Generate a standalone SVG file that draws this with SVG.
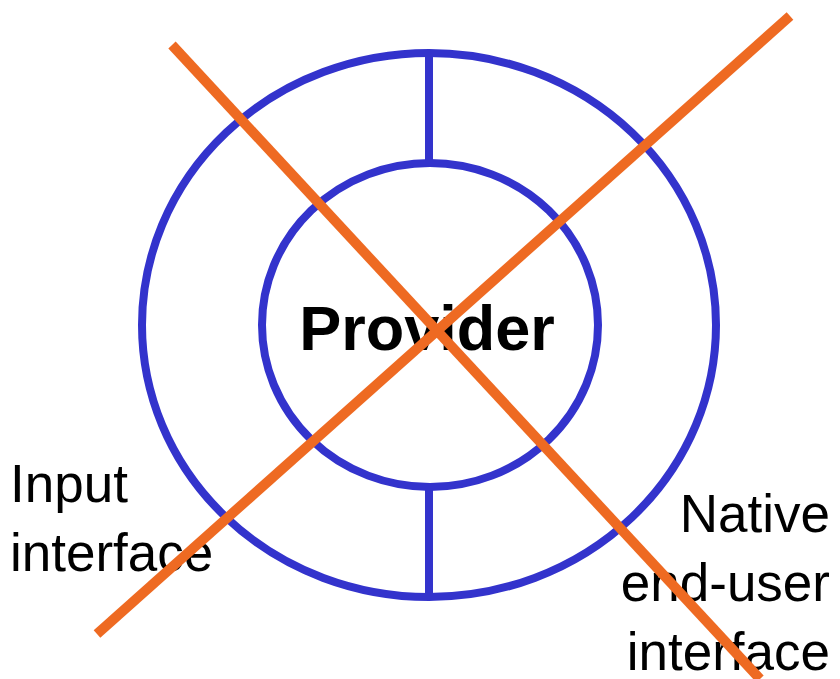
<svg xmlns="http://www.w3.org/2000/svg" width="840" height="679" viewBox="0 0 840 679">
  <style>
    .ring { fill: none; stroke: #3333cc; stroke-width: 8; }
    .cross { fill: none; stroke: #ee6a22; stroke-width: 10; stroke-linecap: butt; }
    .label { font-family: "Liberation Sans", Arial, sans-serif; font-size: 53px; fill: #000; }
    .title { font-family: "Liberation Sans", Arial, sans-serif; font-size: 63px; font-weight: bold; fill: #000; }
  </style>
  <rect width="840" height="679" fill="#fff"/>
  <g id="outer-ring">
    <ellipse class="ring" cx="429" cy="325" rx="287" ry="272"/>
    <line class="ring" x1="429" y1="53" x2="429" y2="163"/>
    <line class="ring" x1="429" y1="487" x2="429" y2="597"/>
  </g>
  <g id="provider">
    <ellipse class="ring" cx="430" cy="325" rx="168" ry="162"/>
    <text class="title" x="427" y="350" text-anchor="middle">Provider</text>
  </g>
  <g id="input-interface">
    <text class="label" x="10" y="502">Input</text>
    <text class="label" x="10" y="571">interface</text>
  </g>
  <g id="native-interface">
    <text class="label" x="830" y="532" text-anchor="end">Native</text>
    <text class="label" x="830" y="601" text-anchor="end">end-user</text>
    <text class="label" x="830" y="670" text-anchor="end">interface</text>
  </g>
  <g id="connectors">
    <line class="cross" x1="172" y1="45" x2="760" y2="679"/>
    <line class="cross" x1="790" y1="16" x2="97" y2="634"/>
  </g>
</svg>
